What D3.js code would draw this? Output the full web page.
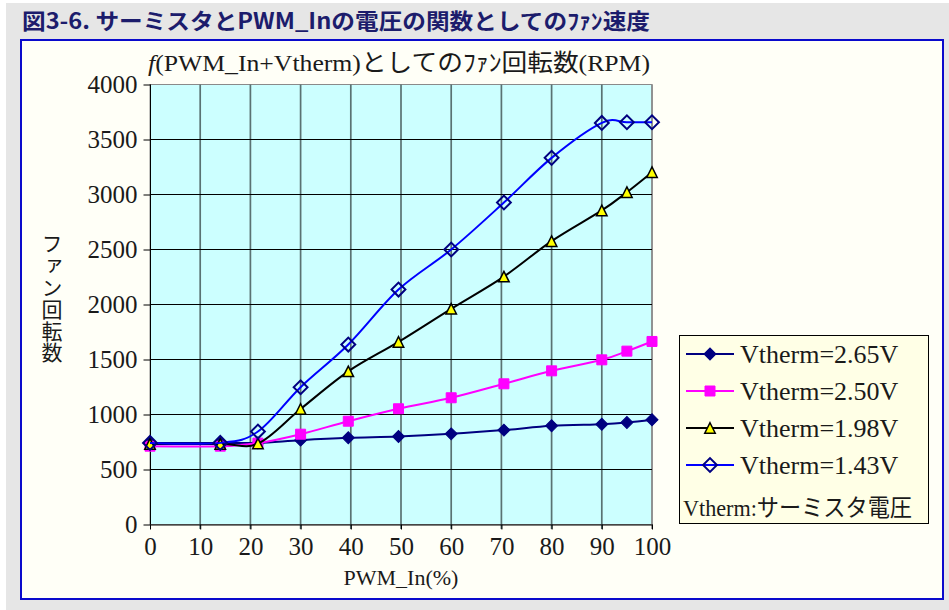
<!DOCTYPE html>
<html>
<head>
<meta charset="utf-8">
<script src="https://cdn.jsdelivr.net/npm/d3@7"></script>
<style>
  body { margin: 0; background: #ffffff; }
  svg { display: block; }
</style>
</head>
<body>
<svg id="chart" width="949" height="610"></svg>
<script>
// PWM duty (%) at which fan speed was measured
const pwmIn = [0, 14, 21.5, 30, 39.5, 49.5, 60, 70.5, 80, 90, 95, 100];

// Fan speed (RPM) for each thermistor voltage
const rpm265 = [742, 742, 742, 767, 788, 800, 824, 858, 897, 912, 927, 952];
const rpm250 = [712, 712, 740, 821, 939, 1052, 1152, 1279, 1397, 1497, 1576, 1664];
const rpm198 = [732, 732, 736, 1050, 1392, 1660, 1961, 2254, 2576, 2855, 3021, 3203];
const rpm143 = [742, 742, 845, 1248, 1636, 2136, 2500, 2927, 3333, 3651, 3657, 3657];

const seriesNames = ["Vtherm=2.65V", "Vtherm=2.50V", "Vtherm=1.98V", "Vtherm=1.43V"];

const xTicks = [0, 10, 20, 30, 40, 50, 60, 70, 80, 90, 100];
const yTicks = [0, 500, 1000, 1500, 2000, 2500, 3000, 3500, 4000];

const pageTitle = "図3-6. サーミスタとPWM_Inの電圧の関数としてのﾌｧﾝ速度";
const chartTitleRest = "(PWM_In+Vtherm)としてのﾌｧﾝ回転数(RPM)";
const xAxisTitle = "PWM_In(%)";
const yAxisTitle = "ファン回転数";
const legendNote = "Vtherm:サーミスタ電圧";

const SERIF = "'Liberation Serif', 'Times New Roman', 'Noto Sans CJK JP', serif";
const GOTHIC = "'Noto Sans CJK JP', sans-serif";

const svg = d3.select("#chart");

// Page background and caption
svg.append("rect").attr("x", 0).attr("y", 0).attr("width", 949).attr("height", 610).attr("fill", "#ffffff");
svg.append("rect").attr("x", 6).attr("y", 3).attr("width", 943).attr("height", 607).attr("fill", "#e6e6e6");

svg.append("text")
  .attr("x", 22).attr("y", 29)
  .attr("font-family", GOTHIC).attr("font-weight", "bold").attr("font-size", 22)
  .attr("fill", "#1c1c6c")
  .attr("textLength", 628).attr("lengthAdjust", "spacingAndGlyphs")
  .text(pageTitle);

// Chart frame
svg.append("rect")
  .attr("x", 21).attr("y", 40).attr("width", 922).attr("height", 559)
  .attr("fill", "#fffff7").attr("stroke", "#0a0acc").attr("stroke-width", 2);

// Scales
const plot = { left: 150, right: 652, top: 84, bottom: 524 };
const x = d3.scaleLinear().domain([0, 100]).range([plot.left, plot.right]);
const y = d3.scaleLinear().domain([0, 4000]).range([plot.bottom + 0.5, plot.top + 0.5]);

// Plot area
svg.append("rect")
  .attr("x", plot.left).attr("y", plot.top + 0.5)
  .attr("width", plot.right - plot.left).attr("height", plot.bottom - plot.top)
  .attr("fill", "#ccffff").attr("stroke", "#8a8a8a").attr("stroke-width", 1);

// Gridlines: vertical ones are softer than the horizontal ones
const grid = svg.append("g");
grid.selectAll("line.v").data(xTicks.filter(d => d > 0)).enter().append("line")
  .attr("class", "v")
  .attr("x1", d => x(d)).attr("x2", d => x(d))
  .attr("y1", plot.top + 0.5).attr("y2", plot.bottom + 5)
  .attr("stroke", d => d === 100 ? "#8a8a8a" : "#5a7272").attr("stroke-width", 1.7);
grid.selectAll("line.h").data(yTicks.filter(d => d > 0 && d < 4000)).enter().append("line")
  .attr("class", "h")
  .attr("x1", plot.left).attr("x2", plot.right)
  .attr("y1", d => y(d)).attr("y2", d => y(d))
  .attr("stroke", "#000").attr("stroke-width", 1);

// Axes
const yAxis = svg.append("g")
  .attr("transform", `translate(${plot.left + 0.5},0)`)
  .call(d3.axisLeft(y).tickValues(yTicks).tickFormat(d3.format("d"))
    .tickSize(7).tickPadding(6).tickSizeOuter(0));
const xAxis = svg.append("g")
  .attr("transform", `translate(0,${plot.bottom + 0.5})`)
  .call(d3.axisBottom(x).tickValues(xTicks).tickFormat(d3.format("d"))
    .tickSize(5).tickPadding(8).tickSizeOuter(0));

[yAxis, xAxis].forEach(ax => {
  ax.select(".domain").attr("stroke", "#000").attr("stroke-width", 1);
  ax.selectAll(".tick line").attr("stroke", "#000");
  ax.selectAll(".tick text")
    .attr("font-family", SERIF).attr("font-size", 25).attr("fill", "#1a1a1a");
});
yAxis.select(".domain").attr("d", `M0,${plot.top + 0.5}V${plot.bottom + 0.5}`);

// Titles
const ct = svg.append("text")
  .attr("x", 148).attr("y", 71)
  .attr("font-family", SERIF).attr("font-size", 24).attr("fill", "#1a1a1a")
  .attr("textLength", 502).attr("lengthAdjust", "spacingAndGlyphs");
ct.append("tspan").attr("font-style", "italic").text("f");
ct.append("tspan").text(chartTitleRest);

svg.append("text")
  .attr("x", (plot.left + plot.right) / 2).attr("y", 585)
  .attr("text-anchor", "middle")
  .attr("font-family", SERIF).attr("font-size", 22).attr("fill", "#1a1a1a")
  .text(xAxisTitle);

// Vertical axis title, set in vertical writing mode
svg.append("text")
  .attr("x", 52).attr("y", 233)
  .style("writing-mode", "vertical-rl")
  .style("text-orientation", "upright")
  .attr("font-family", GOTHIC).attr("font-size", 21).attr("fill", "#1a1a1a")
  .attr("letter-spacing", 0.8)
  .text(yAxisTitle);

// Marker shapes
const boxTriangle = {
  draw(ctx, size) {
    const r = Math.sqrt(size) / 2;
    ctx.moveTo(0, -r); ctx.lineTo(r, r); ctx.lineTo(-r, r); ctx.closePath();
  }
};

const series = [
  { name: seriesNames[0], values: rpm265, line: "#000080",
    shape: d3.symbolSquare, size: 72, rotate: 45, fill: "#000080", stroke: "#000080", sw: 1 },
  { name: seriesNames[1], values: rpm250, line: "#ff00ff",
    shape: d3.symbolSquare, size: 100, rotate: 0, fill: "#ff00ff", stroke: "#ff00ff", sw: 1 },
  { name: seriesNames[2], values: rpm198, line: "#000000",
    shape: boxTriangle, size: 110, rotate: 0, fill: "#ffff00", stroke: "#000000", sw: 1.5 },
  { name: seriesNames[3], values: rpm143, line: "#0000ff",
    shape: d3.symbolSquare, size: 96, rotate: 45, fill: "none", stroke: "#000080", sw: 2 }
];

const lineGen = d3.line()
  .x(d => x(d[0])).y(d => y(d[1]))
  .curve(d3.curveCatmullRom.alpha(0));

series.forEach(s => {
  const pts = pwmIn.map((p, i) => [p, s.values[i]]);
  const g = svg.append("g");
  g.append("path").datum(pts)
    .attr("d", lineGen)
    .attr("fill", "none").attr("stroke", s.line).attr("stroke-width", 2);
  g.selectAll("path.m").data(pts).enter().append("path")
    .attr("class", "m")
    .attr("d", d3.symbol(s.shape, s.size))
    .attr("transform", d => `translate(${x(d[0])},${y(d[1])}) rotate(${s.rotate})`)
    .attr("fill", s.fill).attr("stroke", s.stroke).attr("stroke-width", s.sw);
});

// Legend
const lg = svg.append("g");
lg.append("rect")
  .attr("x", 679.5).attr("y", 335.5).attr("width", 249).attr("height", 188)
  .attr("fill", "#ffffe6").attr("stroke", "#000").attr("stroke-width", 1);

series.forEach((s, i) => {
  const cy = 354 + i * 37;
  lg.append("line")
    .attr("x1", 686).attr("x2", 734).attr("y1", cy).attr("y2", cy)
    .attr("stroke", s.line).attr("stroke-width", 2);
  lg.append("path")
    .attr("d", d3.symbol(s.shape, s.size))
    .attr("transform", `translate(710,${cy}) rotate(${s.rotate})`)
    .attr("fill", s.fill).attr("stroke", s.stroke).attr("stroke-width", s.sw);
  lg.append("text")
    .attr("x", 740).attr("y", cy + 9)
    .attr("font-family", SERIF).attr("font-size", 26).attr("fill", "#1a1a1a")
    .text(s.name);
});

lg.append("text")
  .attr("x", 683).attr("y", 516)
  .attr("font-family", SERIF).attr("font-size", 24).attr("fill", "#1a1a1a")
  .attr("textLength", 229).attr("lengthAdjust", "spacingAndGlyphs")
  .text(legendNote);
</script>
</body>
</html>
